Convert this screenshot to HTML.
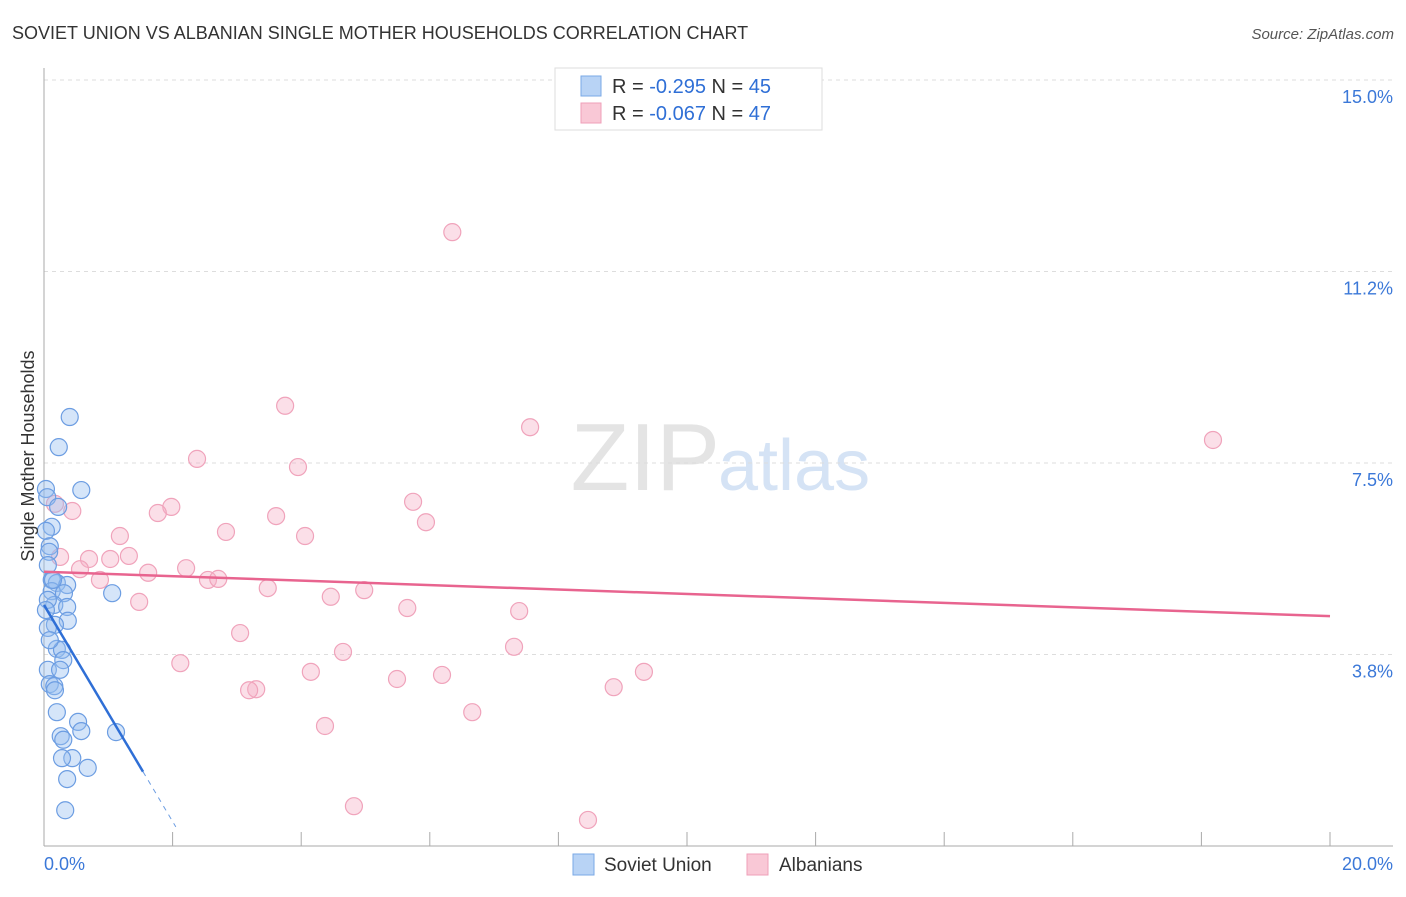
<!DOCTYPE html>
<html><head><meta charset="utf-8"><style>
body{margin:0;background:#fff;font-family:"Liberation Sans",sans-serif;}
svg text{font-family:"Liberation Sans",sans-serif;}
</style></head><body>
<svg width="1406" height="892" xmlns="http://www.w3.org/2000/svg">
<text x="12" y="39" font-size="18" fill="#333">SOVIET UNION VS ALBANIAN SINGLE MOTHER HOUSEHOLDS CORRELATION CHART</text>
<text x="1394" y="39" font-size="15" fill="#555" font-style="italic" text-anchor="end">Source: ZipAtlas.com</text>
<text x="720" y="490" font-size="96" fill="#e4e4e4" text-anchor="end" font-family="Liberation Serif">ZIP</text>
<text x="718" y="490" font-size="72" fill="#d5e3f5">atlas</text>
<g id="grid"></g>
<g id="axes"></g>
<g id="pts"></g>
<g id="trends"></g>
<text transform="translate(34,456) rotate(-90)" font-size="18" fill="#333" text-anchor="middle">Single Mother Households</text>
<g>
<rect x="555" y="68" width="267" height="62" fill="#fff" stroke="#ddd"/>
<rect x="581" y="76" width="20" height="20" fill="#b8d3f5" stroke="#7aa8e6"/>
<rect x="581" y="103" width="20" height="20" fill="#f9c8d6" stroke="#ef9fb8"/>
<text x="612" y="93" font-size="20" fill="#333">R = <tspan fill="#2f6fd6">-0.295</tspan>   N = <tspan fill="#2f6fd6">45</tspan></text>
<text x="612" y="120" font-size="20" fill="#333">R = <tspan fill="#2f6fd6">-0.067</tspan>   N = <tspan fill="#2f6fd6">47</tspan></text>
</g>
<g>
<rect x="573" y="854" width="21" height="21" fill="#b8d3f5" stroke="#7aa8e6"/>
<text x="604" y="871" font-size="19" fill="#333">Soviet Union</text>
<rect x="747" y="854" width="21" height="21" fill="#f9c8d6" stroke="#ef9fb8"/>
<text x="779" y="871" font-size="19" fill="#333">Albanians</text>
</g>
</svg>
<script>
const yTicks=[15.0,11.25,7.5,3.75];
const yTickLabels=["15.0%","11.2%","7.5%","3.8%"];
const xTickLabels=["0.0%","20.0%"];
const blueX=[.40,.23,.58,.03,.05,.22,.12,.03,.09,.08,.06,.12,.20,.36,.12,.31,1.06,.16,.36,.37,.17,.06,.20,.28,.30,.06,.25,.09,.16,.17,.20,.53,.58,1.12,.26,.30,.44,.28,.68,.36,.33,.06,.09,.14,.03];
const blueY=[8.40,7.81,6.97,6.99,6.83,6.64,6.25,6.17,5.87,5.76,5.50,5.21,5.15,5.11,4.99,4.95,4.95,4.72,4.68,4.41,4.33,4.27,3.86,3.84,3.64,3.45,3.45,3.17,3.13,3.05,2.62,2.43,2.25,2.23,2.15,2.08,1.72,1.72,1.53,1.31,0.70,4.82,4.03,5.21,4.62];
const pinkX=[6.35,3.75,7.56,18.18,2.38,3.95,5.74,.44,1.98,1.77,.17,3.61,5.94,2.83,4.06,1.18,.25,.70,1.03,1.32,.56,1.62,2.21,2.55,2.71,.87,3.48,4.98,4.46,5.65,7.39,1.48,3.05,7.31,4.65,2.12,4.15,5.49,6.19,9.33,8.86,3.30,3.19,6.66,4.37,4.82,8.46];
const pinkY=[12.02,8.62,8.20,7.95,7.58,7.42,6.74,6.56,6.64,6.52,6.70,6.46,6.34,6.15,6.07,6.07,5.66,5.62,5.62,5.68,5.42,5.35,5.44,5.21,5.23,5.21,5.05,5.01,4.88,4.66,4.60,4.78,4.17,3.90,3.80,3.58,3.41,3.27,3.35,3.41,3.11,3.07,3.05,2.62,2.35,0.78,0.51];
const blueTrend=[4.72,-2.12]; // intercept, slope
const pinkTrend=[5.37,-0.0435];
const NS="http://www.w3.org/2000/svg";
const X=v=>44+v*64.3, Y=v=>846-v*51.07;
function mk(t,a,p){const e=document.createElementNS(NS,t);for(const k in a)e.setAttribute(k,a[k]);p.appendChild(e);return e;}
const grid=document.getElementById('grid'),axes=document.getElementById('axes'),pts=document.getElementById('pts'),tr=document.getElementById('trends');
yTicks.forEach((v,i)=>{
 const l=mk('line',{x1:44,x2:1393,y1:Y(v),y2:Y(v),stroke:'#ddd','stroke-dasharray':'4,4'},grid);
 
 
 const t=mk('text',{x:1393,y:Y(v)+23,'font-size':18,fill:'#3b78d8','text-anchor':'end'},axes);
 t.textContent=yTickLabels[i];
 
 
});
const ya=mk('line',{x1:44,x2:44,y1:68,y2:846,stroke:'#aaa'},axes);


const xa=mk('line',{x1:44,x2:1393,y1:846,y2:846,stroke:'#aaa'},axes);


for(let i=0;i<=10;i++){const t=mk('line',{x1:X(i*2),x2:X(i*2),y1:832,y2:846,stroke:'#aaa'},axes);
 
 }
[[0,'start',44],[20,'end',1393]].forEach((o,i)=>{const t=mk('text',{x:o[2],y:870,'font-size':18,fill:'#3b78d8','text-anchor':o[1]},axes);t.textContent=xTickLabels[i];
 
 });
pinkX.forEach((x,i)=>{const c=mk('circle',{cx:X(x),cy:Y(pinkY[i]),r:8.5,fill:'rgba(246,176,198,0.4)',stroke:'#f0a3bb','stroke-width':1.2},pts);
 
 });
blueX.forEach((x,i)=>{const c=mk('circle',{cx:X(x),cy:Y(blueY[i]),r:8.5,fill:'rgba(150,190,240,0.4)',stroke:'#6c9de2','stroke-width':1.2},pts);
 
 });
const pt=mk('line',{x1:X(0),y1:Y(pinkTrend[0]),x2:X(20),y2:Y(pinkTrend[0]+pinkTrend[1]*20),stroke:'#e8648f','stroke-width':2.5},tr);


const bt=mk('line',{x1:X(0),y1:Y(blueTrend[0]),x2:X(1.54),y2:Y(blueTrend[0]+blueTrend[1]*1.54),stroke:'#2f6fd6','stroke-width':2.5},tr);


const bd=mk('line',{x1:X(1.54),y1:Y(blueTrend[0]+blueTrend[1]*1.54),x2:X(2.05),y2:Y(blueTrend[0]+blueTrend[1]*2.05),stroke:'#6c9de2','stroke-width':1,'stroke-dasharray':'5,5'},tr);


</script>
</body></html>
